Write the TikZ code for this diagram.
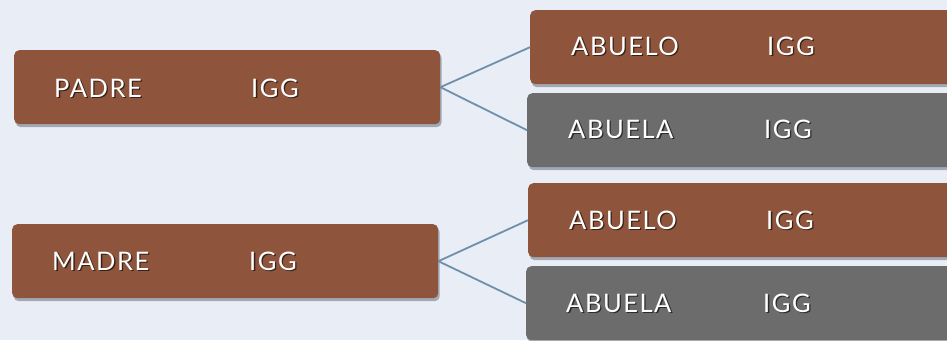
\documentclass[tikz,border=0pt]{standalone}
\usepackage{fontspec}
\setmainfont{Lato}[LetterSpace=6]
\usetikzlibrary{shadows}
\definecolor{bg}{HTML}{E9EEF6}
\definecolor{brn}{HTML}{8E553C}
\definecolor{gry}{HTML}{6C6C6C}
\definecolor{lnk}{HTML}{6F8FAA}
\definecolor{shd}{HTML}{4A5566}
\tikzset{
  box/.style={rounded corners=5pt, anchor=north west, minimum height=74pt, inner sep=0pt,
    drop shadow={shadow xshift=1.5pt, shadow yshift=-3pt, opacity=0.45, fill=shd}},
  brownbox/.style={box, fill=brn},
  graybox/.style={box, fill=gry},
  txt/.style={anchor=base west, inner sep=0pt, text=white, font=\fontsize{25.5}{25.5}\selectfont},
  txtshadow/.style={anchor=base west, inner sep=0pt, text=black, opacity=0.6, font=\fontsize{25.5}{25.5}\selectfont},
  link/.style={draw=lnk, line width=1.8pt}
}
\newcommand{\lbl}[4]{%
  \node[txtshadow] at (#2+1.3,#3+1.3) {#4};
  \node[txt] (#1) at (#2,#3) {#4};}
\begin{document}
\begin{tikzpicture}[x=1pt,y=-1pt]
\fill[bg] (0,0) rectangle (947,340);
\useasboundingbox (0,0) rectangle (947,340);
\clip (0,0) rectangle (947,340);
% boxes
\node[brownbox, minimum width=426pt] (padre) at (14,50) {};
\node[brownbox, minimum width=426pt] (madre) at (12,224) {};
\node[brownbox, minimum width=440pt] (abuelo1) at (530,10) {};
\node[graybox, minimum width=440pt] (abuela1) at (527,93) {};
\node[brownbox, minimum width=440pt] (abuelo2) at (528,183) {};
\node[graybox, minimum width=440pt] (abuela2) at (526,266) {};
% connectors
\draw[link] (padre.east) -- (abuelo1.west);
\draw[link] (padre.east) -- (abuela1.west);
\draw[link] (madre.east) -- (abuelo2.west);
\draw[link] (madre.east) -- (abuela2.west);
% texts
\lbl{tpadre}{54}{97}{PADRE}
\lbl{tpadreigg}{251}{97}{IGG}
\lbl{tmadre}{52}{270}{MADRE}
\lbl{tmadreigg}{249}{270}{IGG}
\lbl{tabuelo1}{571}{55}{ABUELO}
\lbl{tabuelo1igg}{767}{55}{IGG}
\lbl{tabuela1}{568}{138}{ABUELA}
\lbl{tabuela1igg}{764}{138}{IGG}
\lbl{tabuelo2}{569}{229}{ABUELO}
\lbl{tabuelo2igg}{766}{229}{IGG}
\lbl{tabuela2}{566}{312}{ABUELA}
\lbl{tabuela2igg}{763}{312}{IGG}
\end{tikzpicture}
\end{document}
